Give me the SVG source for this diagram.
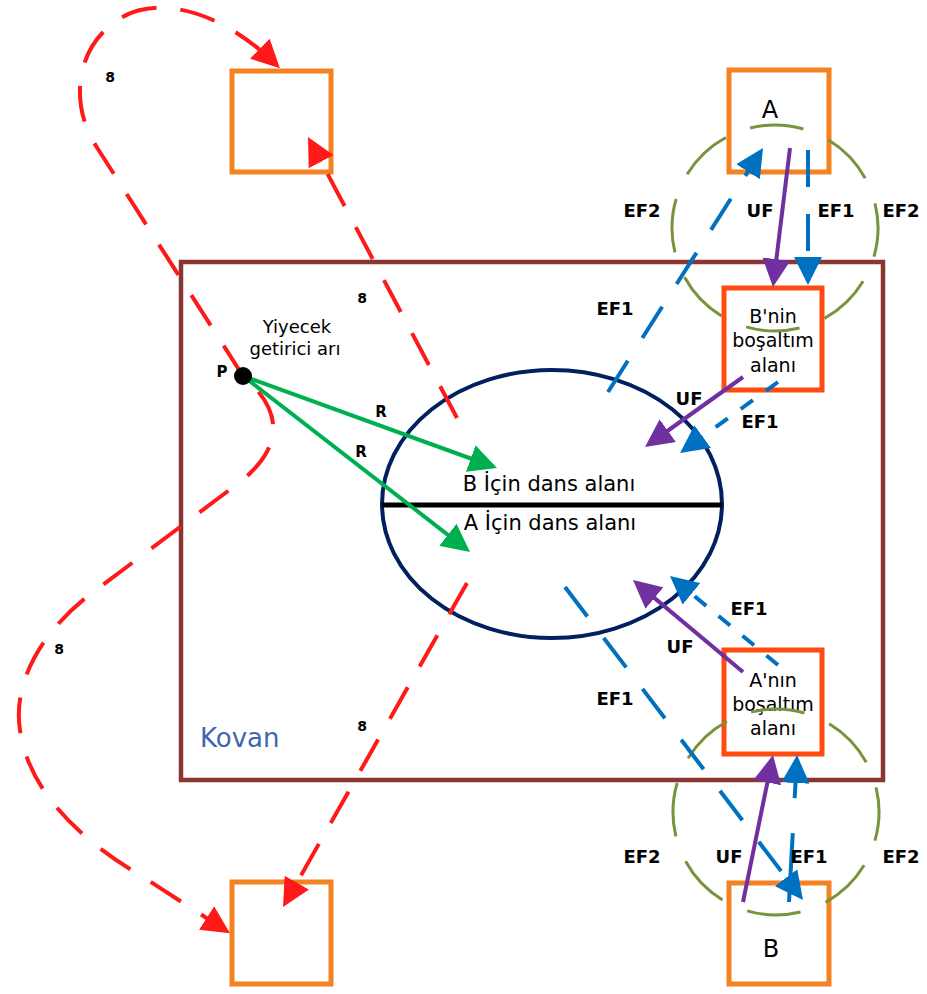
<svg xmlns="http://www.w3.org/2000/svg" width="927" height="994" viewBox="0 0 927 994">
<defs>
<style>
.sq{fill:none;stroke:#f58220;stroke-width:5}
.box{fill:none;stroke:#ff4a10;stroke-width:5}
.efc{fill:none;stroke:#77933c;stroke-width:3;stroke-dasharray:53.9 27}
.red{fill:none;stroke:#ff1a1a;stroke-width:4;stroke-dasharray:36 24;marker-end:url(#mRed)}
.grn{fill:none;stroke:#00b050;stroke-width:4;marker-end:url(#mGrn)}
.blu{fill:none;stroke:#0070c0;stroke-width:4;stroke-dasharray:37 27;marker-end:url(#mBlu)}
.blus{fill:none;stroke:#0070c0;stroke-width:4;stroke-dasharray:15 16;marker-end:url(#mBlu)}
.pur{fill:none;stroke:#7030a0;stroke-width:4;marker-end:url(#mPur)}
text{font-family:"DejaVu Sans","Liberation Sans",sans-serif;fill:#000}
.lb{font-size:18px;font-weight:bold;text-anchor:middle}
.sm{font-size:15px;font-weight:bold;text-anchor:middle}
.ei{font-size:14px;font-weight:bold;text-anchor:middle}
.bx{font-size:19px;text-anchor:middle}
.big{font-size:24px;text-anchor:middle}
.dn{font-size:21px;text-anchor:middle}
</style>
<marker id="mRed" markerUnits="userSpaceOnUse" viewBox="0 0 28 28" refX="22" refY="14" markerWidth="28" markerHeight="28" orient="auto"><path d="M0,0 L28,14 L0,28 z" fill="#ff1a1a"/></marker>
<marker id="mGrn" markerUnits="userSpaceOnUse" viewBox="0 0 28 28" refX="22" refY="14" markerWidth="28" markerHeight="28" orient="auto"><path d="M0,0 L28,14 L0,28 z" fill="#00b050"/></marker>
<marker id="mBlu" markerUnits="userSpaceOnUse" viewBox="0 0 28 28" refX="22" refY="14" markerWidth="28" markerHeight="28" orient="auto"><path d="M0,0 L28,14 L0,28 z" fill="#0070c0"/></marker>
<marker id="mPur" markerUnits="userSpaceOnUse" viewBox="0 0 28 28" refX="22" refY="14" markerWidth="28" markerHeight="28" orient="auto"><path d="M0,0 L28,14 L0,28 z" fill="#7030a0"/></marker>
</defs>
<rect width="927" height="994" fill="#fff"/>

<g id="hive">
<rect x="181" y="262" width="702" height="518" fill="none" stroke="#8a3530" stroke-width="4.5"/>
<text x="200" y="747" style="font-size:26px;fill:#3f66b0">Kovan</text>
</g>

<g id="sq-top-left"><rect class="sq" x="232" y="71" width="99" height="101"/></g>
<g id="sq-bottom-left"><rect class="sq" x="232" y="882" width="99" height="102"/></g>
<g id="sq-A"><rect class="sq" x="729" y="70" width="100" height="102"/><text class="big" x="770" y="118">A</text></g>
<g id="sq-B"><rect class="sq" x="729" y="883" width="100" height="101"/><text class="big" x="771" y="957">B</text></g>
<g id="box-Bnin"><rect class="box" x="724" y="288" width="98" height="102"/>
<text class="bx" x="773" y="323">B'nin</text><text class="bx" x="773" y="347">boşaltım</text><text class="bx" x="773" y="372">alanı</text></g>
<g id="box-Anin"><rect class="box" x="724" y="650" width="98" height="104"/>
<text class="bx" x="773" y="687">A'nın</text><text class="bx" x="773" y="711">boşaltım</text><text class="bx" x="773" y="735">alanı</text></g>

<g id="ef-circles">
<circle class="efc" cx="775" cy="228" r="103" transform="rotate(-104 775 228)"/>
<circle class="efc" cx="776" cy="812" r="103" transform="rotate(-104 776 812)"/>
</g>

<g id="dance-area">
<ellipse cx="552" cy="504" rx="170" ry="134" fill="none" stroke="#002060" stroke-width="4"/>
<line x1="382" y1="505" x2="722" y2="505" stroke="#000" stroke-width="5"/>
<text class="dn" x="549" y="491">B İçin dans alanı</text>
<text class="dn" x="550" y="530">A İçin dans alanı</text>
</g>

<g id="connectors">
<path class="red" d="M243,376 L96,146 C70,105 75,50 115,22 C150,-5 215,5 275.6,64"/>
<path class="red" style="stroke-dashoffset:38" d="M243,376 Q305,430 240,482 L92,593 C45,628 12,680 20,730 C28,790 80,840 140,875 L225,930"/>
<path class="red" d="M457,418 L310.8,142.3"/>
<path class="red" d="M467,583 L286,901.8"/>
<path class="grn" d="M243,376 L491.4,466"/>
<path class="grn" d="M243,376 L465.3,548.3"/>
<path class="blu" d="M608,392 L759.8,153.1"/>
<path class="blu" d="M808,150 L808,279"/>
<path class="blu" d="M565,587 L799.4,895.2"/>
<path class="blu" style="stroke-dasharray:69 35 60" d="M789,902 L796.7,761"/>
<path class="blus" d="M778,382 L684.9,449.5"/>
<path class="blus" d="M778,665 L674.6,579.8"/>
<path class="pur" d="M790,148 L773.7,281"/>
<path class="pur" d="M743,377 L649.9,443.5"/>
<path class="pur" d="M743,672 L637.6,583.9"/>
<path class="pur" d="M743,902 L771.8,760.9"/>
</g>

<g id="food-bee">
<circle cx="243" cy="376" r="9" fill="#000"/>
<text class="sm" x="222" y="377">P</text>
<text x="297" y="333" style="font-size:18px;text-anchor:middle">Yiyecek</text>
<text x="295" y="355" style="font-size:18px;text-anchor:middle">getirici arı</text>
</g>

<g id="labels">
<text class="lb" x="642" y="217">EF2</text>
<text class="lb" x="760" y="217">UF</text>
<text class="lb" x="836" y="217">EF1</text>
<text class="lb" x="901" y="217">EF2</text>
<text class="lb" x="615" y="315">EF1</text>
<text class="lb" x="689" y="405">UF</text>
<text class="lb" x="760" y="428">EF1</text>
<text class="lb" x="749" y="615">EF1</text>
<text class="lb" x="680" y="653">UF</text>
<text class="lb" x="615" y="705">EF1</text>
<text class="lb" x="642" y="863">EF2</text>
<text class="lb" x="729" y="863">UF</text>
<text class="lb" x="809" y="863">EF1</text>
<text class="lb" x="901" y="863">EF2</text>
<text class="sm" x="381" y="417">R</text>
<text class="sm" x="361" y="457">R</text>
<text class="ei" x="110" y="82">8</text>
<text class="ei" x="362" y="303">8</text>
<text class="ei" x="59" y="654">8</text>
<text class="ei" x="362" y="731">8</text>
</g>
</svg>
